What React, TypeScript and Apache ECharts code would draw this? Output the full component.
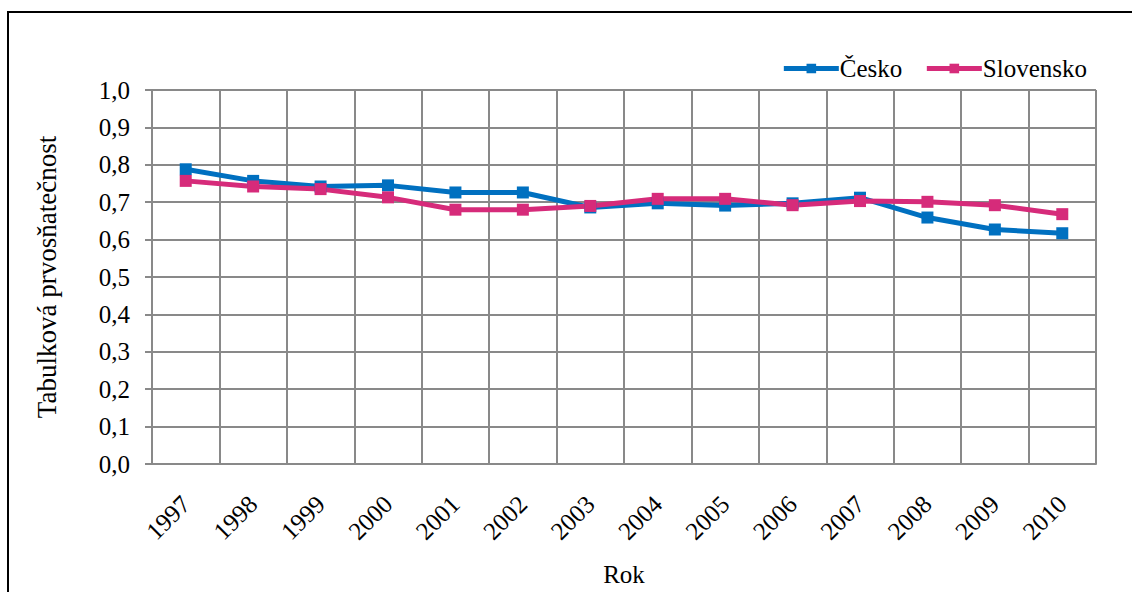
import React, { useEffect, useRef } from "react";
import * as echarts from "echarts";

const years = ["1997", "1998", "1999", "2000", "2001", "2002", "2003", "2004", "2005", "2006", "2007", "2008", "2009", "2010"];
const cesko = [0.788, 0.757, 0.742, 0.745, 0.726, 0.726, 0.686, 0.697, 0.691, 0.697, 0.712, 0.659, 0.627, 0.617];
const slovensko = [0.757, 0.742, 0.735, 0.713, 0.680, 0.680, 0.690, 0.709, 0.709, 0.692, 0.703, 0.701, 0.692, 0.668];

const FONT = "'Liberation Serif', 'Times New Roman', Times, 'DejaVu Serif', serif";
const GRID_COLOR = "#898989";

export default function App() {
  const ref = useRef<HTMLDivElement>(null);
  useEffect(() => {
    if (!ref.current) return;
    const chart = echarts.init(ref.current, null, { renderer: "svg" });
    chart.setOption({
      animation: false,
      backgroundColor: "#ffffff",
      textStyle: { fontFamily: FONT, color: "#000" },
      graphic: [
        {
          type: "rect",
          shape: { x: 8, y: 12, width: 1130, height: 600 },
          style: { fill: "none", stroke: "#000", lineWidth: 2 },
          z: -1,
        },
      ],
      legend: {
        right: 40,
        top: 51,
        itemWidth: 55,
        itemHeight: 12,
        itemGap: 22,
        textStyle: { fontFamily: FONT, fontSize: 25, color: "#000", padding: [0, 0, 0, -4] },
        lineStyle: { width: 5 },
        data: ["Česko", "Slovensko"],
      },
      grid: { left: 152, right: 36, top: 90, bottom: 125 },
      xAxis: {
        type: "category",
        data: years,
        boundaryGap: true,
        name: "Rok",
        nameLocation: "middle",
        nameGap: 98,
        nameTextStyle: { fontFamily: FONT, fontSize: 25, color: "#000" },
        axisLine: { lineStyle: { color: GRID_COLOR, width: 2 } },
        axisTick: { show: false },
        axisLabel: { rotate: 45, margin: 36, fontFamily: FONT, fontSize: 25, color: "#000" },
        splitLine: { show: true, interval: 0, lineStyle: { color: GRID_COLOR, width: 2 } },
      },
      yAxis: {
        type: "value",
        min: 0,
        max: 1,
        interval: 0.1,
        name: "Tabulková prvosňatečnost",
        nameLocation: "middle",
        nameGap: 92,
        nameTextStyle: { fontFamily: FONT, fontSize: 27, color: "#000" },
        axisLine: { show: true, lineStyle: { color: GRID_COLOR, width: 2 } },
        axisTick: { show: true, length: 7, lineStyle: { color: GRID_COLOR, width: 2 } },
        axisLabel: {
          margin: 22,
          fontFamily: FONT,
          fontSize: 25,
          color: "#000",
          formatter: (v: number) => v.toFixed(1).replace(".", ","),
        },
        splitLine: { show: true, lineStyle: { color: GRID_COLOR, width: 2 } },
      },
      series: [
        {
          name: "Česko",
          type: "line",
          data: cesko,
          symbol: "rect",
          symbolSize: 12,
          color: "#0070C0",
          lineStyle: { width: 5, color: "#0070C0" },
          itemStyle: { color: "#0070C0" },
        },
        {
          name: "Slovensko",
          type: "line",
          data: slovensko,
          symbol: "rect",
          symbolSize: 12,
          color: "#D62B7A",
          lineStyle: { width: 5, color: "#D62B7A" },
          itemStyle: { color: "#D62B7A" },
        },
      ],
    });
    return () => chart.dispose();
  }, []);
  return (
    <div
      ref={ref}
      style={{ position: "fixed", left: 0, top: 0, width: 1132, height: 592 }}
    />
  );
}
